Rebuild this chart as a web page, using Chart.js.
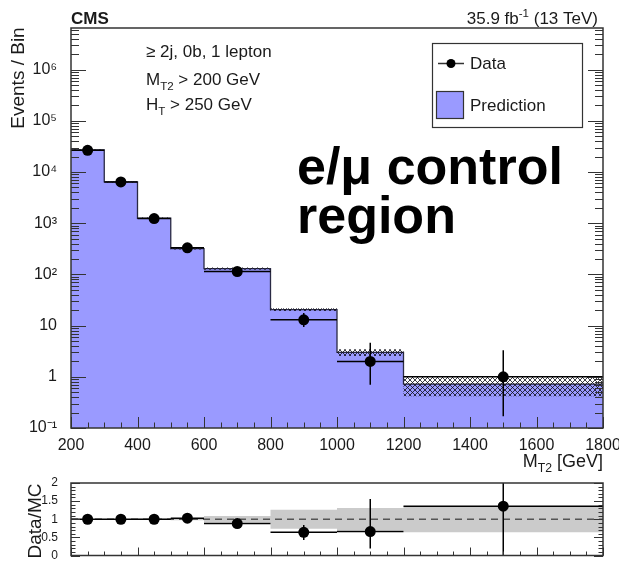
<!DOCTYPE html>
<html>
<head>
<meta charset="utf-8">
<script src="https://cdn.jsdelivr.net/npm/chart.js@4.4.1/dist/chart.umd.min.js"></script>
<style>
  html, body { margin: 0; padding: 0; background: #fff; }
  #wrap { position: relative; width: 619px; height: 561px; overflow: hidden; background: #fff; }
  #main { position: absolute; left: 0; top: 0; }
  #ratio { position: absolute; left: 0; top: 470px; }
</style>
</head>
<body>
<div id="wrap">
  <canvas id="main" width="619" height="480"></canvas>
  <canvas id="ratio" width="619" height="91"></canvas>
</div>
<script>
// M_T2 bins [GeV]
const binEdges = [200, 300, 400, 500, 600, 800, 1000, 1200, 1800];
// prediction per bin + relative size of the hatched band
const predicted = [27000, 6400, 1250, 320, 130, 20.5, 3.0, 0.72];
const predUncRel = [0.02, 0.02, 0.03, 0.04, 0.05, 0.06, 0.15, 0.42];
// observed events + poisson errors
const dataCounts = [26500, 6400, 1230, 330, 114, 13, 2, 1];
const dataErrLow = [163, 80, 35, 18, 11, 3.6, 1.3, 0.83];
const dataErrHigh = [163, 80, 35, 18, 11, 4.7, 2.6, 2.3];
// ratio panel
const ratioValues = [1.0, 1.0, 1.0, 1.03, 0.88, 0.64, 0.66, 1.36];
const ratioErrLow = [0.01, 0.015, 0.03, 0.06, 0.09, 0.21, 0.47, 1.4];
const ratioErrHigh = [0.01, 0.015, 0.03, 0.06, 0.1, 0.2, 0.9, 1.8];
const ratioBandRel = [0.01, 0.01, 0.015, 0.03, 0.09, 0.26, 0.31, 0.36];
// axis labels
const xTickValues = [200, 400, 600, 800, 1000, 1200, 1400, 1600, 1800];
const yTickValues = [0.1, 1, 10, 100, 1e3, 1e4, 1e5, 1e6];
const yTickLabels = ['10\u207B\u00B9', '1', '10', '10\u00B2', '10\u00B3', '10\u2074', '10\u2075', '10\u2076'];
const ratioTickValues = [0, 0.5, 1, 1.5, 2];
const ratioTickLabels = ['0', '0.5', '1', '1.5', '2'];

const FONT = "'Liberation Sans', Arial, Helvetica, sans-serif";
const TXT = '#1a1a1a';
const binCenters = binEdges.slice(0, -1).map((e, i) => (e + binEdges[i + 1]) / 2);

function stepPoints(vals) {
  return binEdges.map((x, i) => ({x: x, y: vals[Math.min(i, vals.length - 1)]}));
}

function makeHatch() {
  const c = document.createElement('canvas');
  c.width = 5; c.height = 5;
  const g = c.getContext('2d');
  g.strokeStyle = 'rgba(15,15,25,0.8)';
  g.lineWidth = 1;
  g.beginPath();
  g.moveTo(0, 0); g.lineTo(5, 5);
  g.moveTo(5, 0); g.lineTo(0, 5);
  g.stroke();
  return g.createPattern(c, 'repeat');
}

// text with sub/superscripts: parts = [[text, mode]] mode 0 normal, 1 sub, 2 sup
function drawRich(ctx, parts, x, y, size, align, bold) {
  const w = bold ? 'bold ' : '';
  let total = 0;
  parts.forEach(([t, m]) => {
    ctx.font = w + (m ? size * 0.68 : size) + 'px ' + FONT;
    total += ctx.measureText(t).width;
  });
  let cx = align === 'right' ? x - total : align === 'center' ? x - total / 2 : x;
  parts.forEach(([t, m]) => {
    ctx.font = w + (m ? size * 0.68 : size) + 'px ' + FONT;
    const dy = m === 1 ? size * 0.3 : m === 2 ? -size * 0.42 : 0;
    ctx.fillText(t, cx, y + dy);
    cx += ctx.measureText(t).width;
  });
}

// ROOT style frame with ticks drawn inside the frame
const innerTicks = {
  id: 'innerTicks',
  afterDraw(chart, args, opts) {
    const {ctx, chartArea: a} = chart;
    const xs = chart.scales.x, ys = chart.scales.y;
    ctx.save();
    ctx.strokeStyle = '#333';
    ctx.lineWidth = 1;
    ctx.beginPath();
    opts.xTicks.forEach(([v, len]) => {
      const px = Math.round(xs.getPixelForValue(v)) + 0.5;
      ctx.moveTo(px, a.bottom); ctx.lineTo(px, a.bottom - len);
    });
    opts.yTicks.forEach(([v, len]) => {
      const py = Math.round(ys.getPixelForValue(v)) + 0.5;
      ctx.moveTo(a.left, py); ctx.lineTo(a.left + len, py);
      ctx.moveTo(a.right, py); ctx.lineTo(a.right - len, py);
    });
    ctx.stroke();
    ctx.lineWidth = 1.5;
    ctx.strokeRect(a.left, a.top, a.right - a.left, a.bottom - a.top);
    ctx.restore();
  }
};

// vertical error bars + bin width bars for the data points
const errorBars = {
  id: 'errorBars',
  afterDatasetsDraw(chart, args, opts) {
    const {ctx, chartArea: a} = chart;
    const xs = chart.scales.x, ys = chart.scales.y;
    ctx.save();
    ctx.beginPath();
    ctx.rect(a.left, a.top, a.right - a.left, a.bottom - a.top);
    ctx.clip();
    ctx.strokeStyle = '#000';
    ctx.lineWidth = 1.5;
    ctx.beginPath();
    opts.values.forEach((v, i) => {
      const y = ys.getPixelForValue(v);
      const x = xs.getPixelForValue(binCenters[i]);
      ctx.moveTo(xs.getPixelForValue(binEdges[i]), y);
      ctx.lineTo(xs.getPixelForValue(binEdges[i + 1]), y);
      const lo = opts.log ? Math.max(v - opts.lo[i], 1e-3) : v - opts.lo[i];
      ctx.moveTo(x, ys.getPixelForValue(v + opts.hi[i]));
      ctx.lineTo(x, ys.getPixelForValue(lo));
    });
    ctx.stroke();
    ctx.restore();
  }
};

const mainText = {
  id: 'mainText',
  afterDraw(chart) {
    const ctx = chart.ctx;
    ctx.save();
    ctx.fillStyle = TXT;
    ctx.textBaseline = 'alphabetic';
    drawRich(ctx, [['CMS', 0]], 71, 24, 17, 'left', true);
    drawRich(ctx, [['35.9 fb', 0], ['-1', 2], [' (13 TeV)', 0]], 598, 24, 17, 'right');
    drawRich(ctx, [['\u2265 2j, 0b, 1 lepton', 0]], 146, 57, 17, 'left');
    drawRich(ctx, [['M', 0], ['T2', 1], [' > 200 GeV', 0]], 146, 85, 17, 'left');
    drawRich(ctx, [['H', 0], ['T', 1], [' > 250 GeV', 0]], 146, 110, 17, 'left');
    drawRich(ctx, [['M', 0], ['T2', 1], [' [GeV]', 0]], 603, 467, 18, 'right');

    // legend box
    ctx.strokeStyle = '#333';
    ctx.lineWidth = 1.2;
    ctx.strokeRect(432.5, 43.5, 150, 84);
    ctx.lineWidth = 1.5;
    ctx.beginPath(); ctx.moveTo(438, 63.5); ctx.lineTo(464, 63.5); ctx.stroke();
    ctx.beginPath(); ctx.arc(451, 63.5, 4.5, 0, Math.PI * 2); ctx.fillStyle = '#000'; ctx.fill();
    ctx.fillStyle = '#9a9aff';
    ctx.fillRect(436.5, 91.5, 27, 27);
    ctx.lineWidth = 1.2;
    ctx.strokeRect(436.5, 91.5, 27, 27);
    ctx.fillStyle = TXT;
    drawRich(ctx, [['Data', 0]], 470, 69, 17, 'left');
    drawRich(ctx, [['Prediction', 0]], 470, 111, 17, 'left');

    // big label
    ctx.fillStyle = '#000';
    drawRich(ctx, [['e/\u03BC control', 0]], 297, 184, 52, 'left', true);
    drawRich(ctx, [['region', 0]], 297, 233, 52, 'left', true);

    // y title
    ctx.fillStyle = TXT;
    ctx.translate(24, 78);
    ctx.rotate(-Math.PI / 2);
    ctx.font = '19px ' + FONT;
    ctx.textAlign = 'center';
    ctx.fillText('Events / Bin', 0, 0);
    ctx.restore();
  }
};

const ratioText = {
  id: 'ratioText',
  afterDraw(chart) {
    const ctx = chart.ctx;
    ctx.save();
    ctx.fillStyle = TXT;
    ctx.translate(41, 51);
    ctx.rotate(-Math.PI / 2);
    ctx.font = '19px ' + FONT;
    ctx.textAlign = 'center';
    ctx.fillText('Data/MC', 0, 0);
    ctx.restore();
  }
};

function mainXTicks() {
  const t = [];
  for (let v = 200; v <= 1800; v += 50) t.push([v, v % 200 === 0 ? 11 : 5.5]);
  return t;
}
function mainYTicks() {
  const t = [];
  for (let e = -1; e <= 6; e++) {
    for (let m = 1; m <= 9; m++) {
      const v = m * Math.pow(10, e);
      if (v <= 6.5e6) t.push([v, m === 1 ? 15 : 8]);
    }
  }
  return t;
}
function ratioXTicks() {
  const t = [];
  for (let v = 200; v <= 1800; v += 50) t.push([v, v % 200 === 0 ? 8 : 4]);
  return t;
}
function ratioYTicks() {
  const t = [];
  for (let k = 0; k <= 20; k++) t.push([k / 10, k % 5 === 0 ? 9 : 4.5]);
  return t;
}

const hatch = makeHatch();

new Chart('main', {
  type: 'line',
  data: {
    datasets: [
      {
        label: 'Data',
        data: binCenters.map((x, i) => ({x: x, y: dataCounts[i]})),
        showLine: false,
        pointRadius: 5.5,
        pointBackgroundColor: '#000',
        pointBorderWidth: 0,
        order: 0
      },
      {
        label: 'uncUp',
        data: stepPoints(predicted.map((v, i) => v * (1 + predUncRel[i]))),
        stepped: 'before',
        borderWidth: 0,
        pointRadius: 0,
        backgroundColor: hatch,
        fill: '+1',
        order: 1
      },
      {
        label: 'uncDown',
        data: stepPoints(predicted.map((v, i) => v * (1 - predUncRel[i]))),
        stepped: 'before',
        borderWidth: 0,
        pointRadius: 0,
        fill: false,
        order: 1
      },
      {
        label: 'Prediction',
        data: stepPoints(predicted),
        stepped: 'before',
        borderColor: '#2a2a44',
        borderWidth: 1.3,
        backgroundColor: '#9a9aff',
        fill: 'start',
        pointRadius: 0,
        order: 2
      }
    ]
  },
  options: {
    responsive: false,
    animation: false,
    layout: {padding: {top: 28, right: 16, left: 0, bottom: 0}},
    scales: {
      x: {
        type: 'linear', min: 200, max: 1800,
        grid: {display: false}, border: {display: false},
        afterBuildTicks: s => { s.ticks = xTickValues.map(v => ({value: v})); },
        ticks: {
          font: {family: FONT, size: 16}, color: TXT, padding: 0, maxRotation: 0, autoSkip: false,
          callback: (v, i) => String(xTickValues[i])
        },
        afterFit: s => { s.height = 52; s.paddingLeft = 0; s.paddingRight = 0; }
      },
      y: {
        type: 'logarithmic', min: 0.1, max: 6.5e6,
        grid: {display: false}, border: {display: false},
        afterBuildTicks: s => { s.ticks = yTickValues.map(v => ({value: v})); },
        ticks: {
          font: {family: FONT, size: 16}, color: TXT, padding: 6, autoSkip: false,
          callback: (v, i) => yTickLabels[i]
        },
        afterFit: s => { s.width = 71; s.paddingTop = 0; s.paddingBottom = 0; }
      }
    },
    plugins: {
      legend: {display: false},
      tooltip: {enabled: false},
      innerTicks: {xTicks: mainXTicks(), yTicks: mainYTicks()},
      errorBars: {values: dataCounts, lo: dataErrLow, hi: dataErrHigh, log: true}
    }
  },
  plugins: [errorBars, innerTicks, mainText]
});

new Chart('ratio', {
  type: 'line',
  data: {
    datasets: [
      {
        label: 'Data/MC',
        data: binCenters.map((x, i) => ({x: x, y: ratioValues[i]})),
        showLine: false,
        pointRadius: 5.5,
        pointBackgroundColor: '#000',
        pointBorderWidth: 0,
        order: 0
      },
      {
        label: 'unity',
        data: [{x: 200, y: 1}, {x: 1800, y: 1}],
        borderColor: '#555',
        borderWidth: 1.5,
        borderDash: [7, 5],
        pointRadius: 0,
        fill: false,
        order: 1
      },
      {
        label: 'bandUp',
        data: stepPoints(ratioBandRel.map(u => 1 + u)),
        stepped: 'before',
        borderWidth: 0,
        pointRadius: 0,
        backgroundColor: '#cbcbcb',
        fill: '+1',
        order: 2
      },
      {
        label: 'bandDown',
        data: stepPoints(ratioBandRel.map(u => 1 - u)),
        stepped: 'before',
        borderWidth: 0,
        pointRadius: 0,
        fill: false,
        order: 2
      }
    ]
  },
  options: {
    responsive: false,
    animation: false,
    layout: {padding: {top: 13, right: 16, left: 0, bottom: 1}},
    scales: {
      x: {type: 'linear', min: 200, max: 1800, display: false},
      y: {
        type: 'linear', min: 0, max: 2,
        grid: {display: false}, border: {display: false},
        afterBuildTicks: s => { s.ticks = ratioTickValues.map(v => ({value: v})); },
        ticks: {
          font: {family: FONT, size: 12}, color: TXT, padding: 5, autoSkip: false,
          callback: (v, i) => ratioTickLabels[i]
        },
        afterFit: s => { s.width = 71; s.paddingTop = 0; s.paddingBottom = 0; }
      }
    },
    plugins: {
      legend: {display: false},
      tooltip: {enabled: false},
      innerTicks: {xTicks: ratioXTicks(), yTicks: ratioYTicks()},
      errorBars: {values: ratioValues, lo: ratioErrLow, hi: ratioErrHigh, log: false}
    }
  },
  plugins: [errorBars, innerTicks, ratioText]
});
</script>
</body>
</html>
